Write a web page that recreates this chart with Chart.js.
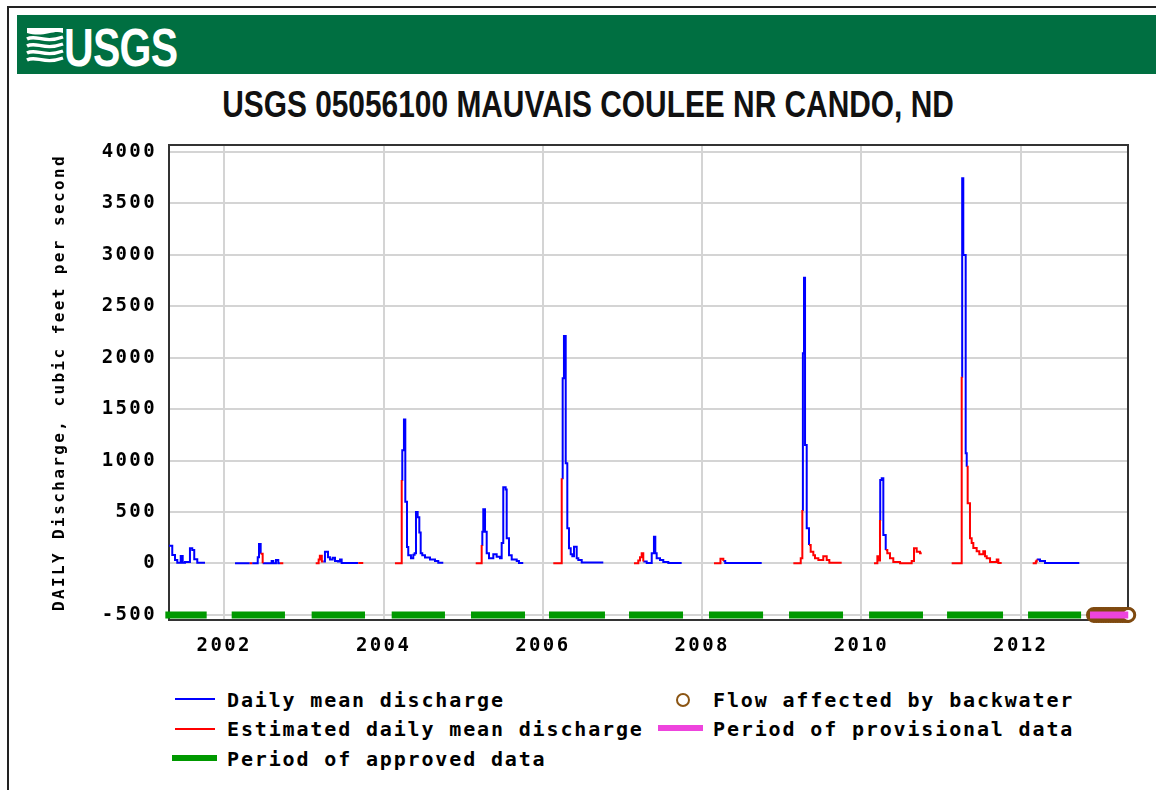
<!DOCTYPE html>
<html>
<head>
<meta charset="utf-8">
<script src="https://cdn.jsdelivr.net/npm/chart.js@4.4.1/dist/chart.umd.min.js"></script>
<style>
  html, body { margin: 0; padding: 0; background: #fff; }
  body { width: 1156px; height: 790px; position: relative; overflow: hidden; }
  #frame { position: absolute; left: 7px; top: 6px; width: 1300px; height: 900px; border-left: 2px solid #222; border-top: 2px solid #222; }
  #banner { position: absolute; left: 17px; top: 15px; width: 1139px; height: 59px; background: #006f41; }
  #waves { position: absolute; left: 26px; top: 27px; }
  #logo { position: absolute; left: 64px; top: 20px; color: #fff; font: bold 54px/54px "Liberation Sans", Arial, sans-serif; transform: scaleX(0.76); transform-origin: left center; letter-spacing: -1px; }
  #title { position: absolute; left: 0; top: 87px; width: 1176px; text-align: center; font: bold 36px/36px "Liberation Sans", Arial, sans-serif; color: #111; transform: scaleX(0.83); transform-origin: 588px 50%; }
  .lg { position: absolute; font: bold 20px/20px "DejaVu Sans Mono", monospace; letter-spacing: 1.85px; color: #000; white-space: nowrap; }
  .sw { position: absolute; }
  #chart { position: absolute; left: 0; top: 0; }
</style>
</head>
<body>
<div id="frame"></div>
<div id="banner"></div>
<svg id="waves" width="38" height="40" viewBox="0 0 38 40">
  <path d="M1 1 H37 V6 C28 2 18 11 1 6 Z" fill="#fff"/>
  <g fill="none" stroke="#fff" stroke-width="3.4">
    <path d="M1 12 C10 7 18 17 37 10"/>
    <path d="M1 19 C10 14 18 24 37 17"/>
    <path d="M1 26 C10 21 18 31 37 24"/>
    <path d="M1 33 C10 28 18 38 37 31"/>
  </g>
</svg>
<div id="logo">USGS</div>
<div id="title">USGS 05056100 MAUVAIS COULEE NR CANDO, ND</div>

<div class="sw" style="left:175px;top:698px;width:40px;height:2px;background:#0000ff"></div>
<div class="lg" style="left:227px;top:690px">Daily mean discharge</div>
<div class="sw" style="left:175px;top:728px;width:40px;height:2px;background:#ff0000"></div>
<div class="lg" style="left:227px;top:719px">Estimated daily mean discharge</div>
<div class="sw" style="left:172px;top:755px;width:45px;height:6px;background:#009900"></div>
<div class="lg" style="left:227px;top:749px">Period of approved data</div>
<div class="sw" style="left:676px;top:693px;width:10px;height:10px;border:2.5px solid #8b5513;border-radius:50%"></div>
<div class="lg" style="left:713px;top:690px">Flow affected by backwater</div>
<div class="sw" style="left:658px;top:725px;width:45px;height:6px;background:#ee44dd"></div>
<div class="lg" style="left:713px;top:719px">Period of provisional data</div>

<canvas id="chart" width="1156" height="790"></canvas>

<script>
const yearTicks = [2002, 2004, 2006, 2008, 2010, 2012];
const flowTicks = [-500, 0, 500, 1000, 1500, 2000, 2500, 3000, 3500, 4000];

// daily mean discharge (cfs), runs of [decimal year, value]
const dailyMean = [
  [[2001.306, 173], [2001.347, 83], [2001.381, 34], [2001.41, 8], [2001.453, 73], [2001.478, 8], [2001.507, 15], [2001.569, 148], [2001.598, 131], [2001.623, 41], [2001.661, 8], [2001.758, 8]],
  [[2002.135, 3], [2002.32, 3]],
  [[2002.35, 3], [2002.407, 3], [2002.42, 60], [2002.436, 190], [2002.457, 95]],
  [[2002.482, 3], [2002.595, 25], [2002.615, 3], [2002.649, 35], [2002.678, 3], [2002.699, 3]],
  [[2003.243, 20], [2003.264, 115], [2003.302, 60], [2003.327, 40], [2003.361, 55], [2003.39, 25], [2003.428, 20], [2003.453, 40], [2003.474, 5], [2003.683, 5]],
  [[2004.228, 810], [2004.235, 1100], [2004.256, 1400], [2004.273, 600], [2004.294, 160], [2004.31, 80], [2004.344, 50], [2004.373, 85], [2004.39, 100], [2004.407, 500], [2004.428, 450], [2004.449, 300], [2004.466, 100], [2004.486, 80], [2004.52, 58], [2004.583, 40], [2004.646, 25], [2004.687, 8], [2004.75, 8]],
  [[2005.232, 180], [2005.24, 309], [2005.252, 527], [2005.274, 309], [2005.295, 100], [2005.324, 50], [2005.378, 90], [2005.42, 65], [2005.462, 50], [2005.483, 200], [2005.503, 740], [2005.533, 720], [2005.546, 245], [2005.575, 80], [2005.609, 40], [2005.672, 25], [2005.7, 5], [2005.754, 5]],
  [[2006.237, 828], [2006.249, 1800], [2006.265, 2210], [2006.287, 973], [2006.307, 342], [2006.328, 148], [2006.35, 90], [2006.37, 70], [2006.391, 163], [2006.425, 50], [2006.445, 35], [2006.488, 10], [2006.759, 10]],
  [[2007.261, 20], [2007.304, 5], [2007.367, 100], [2007.395, 260], [2007.412, 100], [2007.429, 50], [2007.471, 35], [2007.512, 15], [2007.575, 5], [2007.743, 5]],
  [[2008.266, 25], [2008.29, 5], [2008.748, 5]],
  [[2009.258, 520], [2009.265, 2042], [2009.279, 2777], [2009.292, 1151], [2009.313, 342], [2009.342, 180]],
  [[2010.233, 423], [2010.236, 811], [2010.255, 828], [2010.275, 277], [2010.305, 130]],
  [[2011.259, 1815], [2011.265, 3743], [2011.279, 2997], [2011.309, 1071], [2011.322, 940]],
  [[2012.201, 40], [2012.242, 25], [2012.305, 5], [2012.736, 5]]
];

// estimated daily mean discharge (cfs)
const estimatedMean = [
  [[2002.32, 3], [2002.35, 3]],
  [[2002.457, 95], [2002.482, 3]],
  [[2002.699, 3], [2002.741, 3]],
  [[2003.148, 3], [2003.185, 40], [2003.2, 75], [2003.225, 20], [2003.243, 20]],
  [[2003.683, 5], [2003.745, 5]],
  [[2004.143, 3], [2004.228, 810]],
  [[2005.157, 3], [2005.232, 180]],
  [[2006.131, 3], [2006.237, 828]],
  [[2007.144, 3], [2007.198, 30], [2007.22, 60], [2007.241, 99], [2007.261, 20]],
  [[2008.149, 3], [2008.23, 45], [2008.266, 25]],
  [[2009.145, 3], [2009.238, 50], [2009.258, 520]],
  [[2009.342, 180], [2009.363, 115], [2009.396, 80], [2009.417, 50], [2009.459, 35], [2009.521, 70], [2009.564, 35], [2009.597, 8], [2009.752, 8]],
  [[2010.158, 3], [2010.2, 70], [2010.225, 30], [2010.233, 423]],
  [[2010.305, 130], [2010.325, 100], [2010.359, 50], [2010.4, 15], [2010.485, 3], [2010.631, 25], [2010.66, 148], [2010.694, 115], [2010.736, 100], [2010.757, 100]],
  [[2011.133, 3], [2011.259, 1815]],
  [[2011.322, 940], [2011.334, 585], [2011.363, 245], [2011.384, 200], [2011.405, 150], [2011.447, 120], [2011.48, 90], [2011.53, 120], [2011.552, 70], [2011.573, 50], [2011.615, 15], [2011.699, 40], [2011.719, 5], [2011.761, 5]],
  [[2012.15, 3], [2012.19, 20], [2012.201, 40]]
];

const approvedPeriods = [
  [2001.26, 2001.779], [2002.093, 2002.762], [2003.097, 2003.767], [2004.102, 2004.771],
  [2005.098, 2005.776], [2006.077, 2006.78], [2007.082, 2007.76], [2008.086, 2008.765],
  [2009.091, 2009.769], [2010.096, 2010.773], [2011.075, 2011.778], [2012.092, 2012.758]
];
const provisionalPeriods = [[2012.87, 2013.35]];
const backwaterDays = [2012.92, 2012.95, 2012.98, 2013.01, 2013.04, 2013.07, 2013.1, 2013.13, 2013.16, 2013.19, 2013.22, 2013.25, 2013.28, 2013.31, 2013.34, 2013.35];
const periodLevel = -500;

function runsToPoints(runs) {
  const pts = [];
  runs.forEach((run, i) => {
    if (i > 0) pts.push({ x: run[0][0], y: null });
    run.forEach(([x, y]) => pts.push({ x: x, y: y }));
  });
  return pts;
}

function periodsToPoints(periods) {
  return runsToPoints(periods.map(([a, b]) => [[a, periodLevel], [b, periodLevel]]));
}

const plotFrame = {
  id: "plotFrame",
  beforeDatasetsDraw(chart) {
    const { ctx, chartArea: { left, top, right, bottom } } = chart;
    ctx.save();
    ctx.strokeStyle = "#333";
    ctx.lineWidth = 2;
    ctx.strokeRect(left, top, right - left, bottom - top);
    ctx.restore();
  },
};

// wide pixel-ish font look
const pixelFont = {
  id: "pixelFont",
  beforeDraw(chart) { chart.ctx.letterSpacing = "2.4px"; },
  afterDraw(chart) { chart.ctx.letterSpacing = "0px"; },
};

const tickFont = { family: "DejaVu Sans Mono", size: 19, weight: "bold" };

new Chart(document.getElementById("chart"), {
  type: "line",
  data: {
    datasets: [
      {
        label: "Period of provisional data",
        data: periodsToPoints(provisionalPeriods),
        borderColor: "#ee44dd",
        borderWidth: 7,
        borderCapStyle: "butt",
        pointRadius: 0,
        clip: false,
      },
      {
        label: "Flow affected by backwater",
        data: backwaterDays.map((d) => ({ x: d, y: periodLevel })),
        showLine: false,
        pointRadius: 6.5,
        pointBorderWidth: 3,
        pointBorderColor: "#7f4a10",
        pointBackgroundColor: "#fff",
        clip: false,
      },
      {
        label: "Period of approved data",
        data: periodsToPoints(approvedPeriods),
        borderColor: "#009900",
        borderWidth: 7,
        borderCapStyle: "butt",
        pointRadius: 0,
        clip: false,
      },
      {
        label: "Estimated daily mean discharge",
        data: runsToPoints(estimatedMean),
        borderColor: "#ff0000",
        borderWidth: 2,
        stepped: "before",
        pointRadius: 0,
      },
      {
        label: "Daily mean discharge",
        data: runsToPoints(dailyMean),
        borderColor: "#0000ff",
        borderWidth: 2,
        stepped: "before",
        pointRadius: 0,
      },
    ],
  },
  options: {
    responsive: false,
    animation: false,
    spanGaps: false,
    layout: { padding: { left: 46, right: 28, top: 145, bottom: 120 } },
    plugins: {
      legend: { display: false },
      tooltip: { enabled: false },
    },
    scales: {
      x: {
        type: "linear",
        min: 2001.306,
        max: 2013.347,
        afterBuildTicks: (axis) => { axis.ticks = yearTicks.map((v) => ({ value: v })); },
        afterFit: (axis) => { axis.height = 50; },
        grid: { color: "#d4d4d4", lineWidth: 2, drawTicks: false },
        border: { display: false },
        ticks: {
          padding: 15,
          color: "#000",
          font: tickFont,
          maxRotation: 0,
          callback: (v) => String(v),
        },
      },
      y: {
        min: -549,
        max: 4066,
        afterBuildTicks: (axis) => { axis.ticks = flowTicks.map((v) => ({ value: v })); },
        afterFit: (axis) => { axis.width = 123; },
        grid: { color: "#d4d4d4", lineWidth: 2, drawTicks: false },
        border: { display: false },
        ticks: {
          padding: 12,
          color: "#000",
          font: tickFont,
          callback: (v) => String(v),
        },
        title: {
          display: true,
          text: "DAILY Discharge, cubic feet per second",
          color: "#000",
          font: { family: "DejaVu Sans Mono", size: 16, weight: "bold" },
          padding: 4,
        },
      },
    },
  },
  plugins: [plotFrame, pixelFont],
});
</script>
</body>
</html>
